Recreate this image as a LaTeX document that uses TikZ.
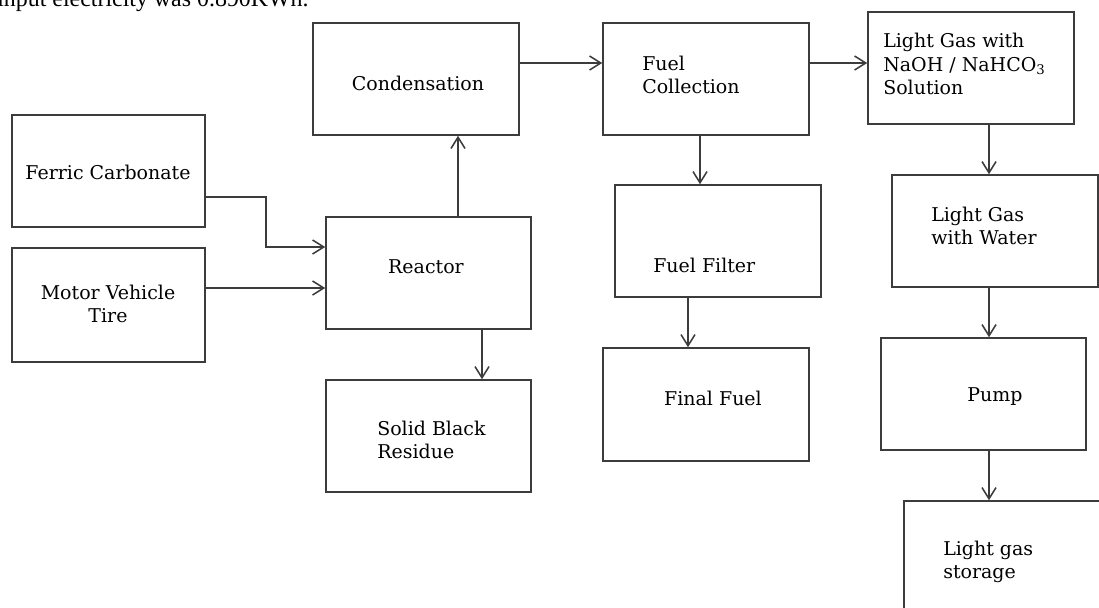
\documentclass[tikz,border=0pt]{standalone}
\usepackage{fontspec}
\setmainfont{DejaVu Serif}
\newfontfamily\bodyfont{Liberation Serif}
\usepackage{tikz}
\usetikzlibrary{arrows.meta,fit}
\definecolor{edge}{HTML}{3C3C3C}

\begin{document}
\begin{tikzpicture}[x=0.025cm,y=-0.025cm,
  box/.style={draw=edge,line width=1.1pt,inner sep=0pt},
  arr/.style={draw=edge,line width=1.1pt,-{Straight Barb[length=8pt,width=10pt,line width=1.1pt]}},
  lbl/.style={font=\fontsize{13.5}{16.6}\selectfont,inner sep=0pt}]
  \useasboundingbox (0,0) rectangle (1099,607);
  \clip (0,0) rectangle (1099,607);
  % sentence cut off at the top
  \node[anchor=base west,inner sep=0pt,font=\bodyfont\fontsize{17}{20}\selectfont] (note) at (-3,6) {input electricity was 0.890KWh.};
  % boxes
  \node[box,fit={(12,115) (205,227)}] (ferric) {};
  \node[box,fit={(12,248) (205,362)}] (motor) {};
  \node[box,fit={(326,217) (531,329)}] (reac) {};
  \node[box,fit={(326,380) (531,492)}] (solid) {};
  \node[box,fit={(313,23) (519,135)}] (cond) {};
  \node[box,fit={(603,23) (809,135)}] (fcol) {};
  \node[box,fit={(615,185) (821,297)}] (ffil) {};
  \node[box,fit={(603,348) (809,461)}] (ffin) {};
  \node[box,fit={(868,12) (1074,124)}] (naoh) {};
  \node[box,fit={(892,175) (1098,287)}] (water) {};
  \node[box,fit={(881,338) (1086,450)}] (pump) {};
  \node[box,fit={(904,501) (1110,630)}] (store) {};
  % texts
  \node[lbl] (ferric-t) at (108,172) {Ferric Carbonate};
  \node[lbl,align=center] (motor-t) at (108,304) {Motor Vehicle\\Tire};
  \node[lbl] (reac-t) at (426,267) {Reactor};
  \node[lbl,align=left,anchor=west] (solid-t) at (377,440) {Solid Black\\Residue};
  \node[lbl] (cond-t) at (418,83) {Condensation};
  \node[lbl,align=left,anchor=west] (fcol-t) at (642,75) {Fuel\\Collection};
  \node[lbl,anchor=west] (ffil-t) at (653,265) {Fuel Filter};
  \node[lbl] (ffin-t) at (713,398) {Final Fuel};
  \node[lbl,align=left,anchor=west] (naoh-t) at (883,64) {Light Gas with\\NaOH / NaHCO\textsubscript{3}\\Solution};
  \node[lbl,align=left,anchor=west] (water-t) at (931,226) {Light Gas\\with Water};
  \node[lbl] (pump-t) at (995,397) {Pump};
  \node[lbl,align=left,anchor=west] (store-t) at (943,562) {Light gas\\storage};
  % connectors
  \coordinate (bend) at (266,247);
  \draw[arr] (ferric.east |- 0,197) -| (bend) -- (reac.west |- bend);
  \draw[arr] (motor.east |- 0,288) -- (reac.west |- 0,288);
  \draw[arr] (reac.north -| 458,0) -- (cond.south -| 458,0);
  \draw[arr] (reac.south -| 482,0) -- (solid.north -| 482,0);
  \draw[arr] (cond.east |- 0,63) -- (fcol.west |- 0,63);
  \draw[arr] (fcol.east |- 0,63) -- (naoh.west |- 0,63);
  \draw[arr] (fcol.south -| 700,0) -- (ffil.north -| 700,0);
  \draw[arr] (ffil.south -| 688,0) -- (ffin.north -| 688,0);
  \draw[arr] (naoh.south -| 989,0) -- (water.north -| 989,0);
  \draw[arr] (water.south -| 989,0) -- (pump.north -| 989,0);
  \draw[arr] (pump.south -| 989,0) -- (store.north -| 989,0);
\end{tikzpicture}
\end{document}
